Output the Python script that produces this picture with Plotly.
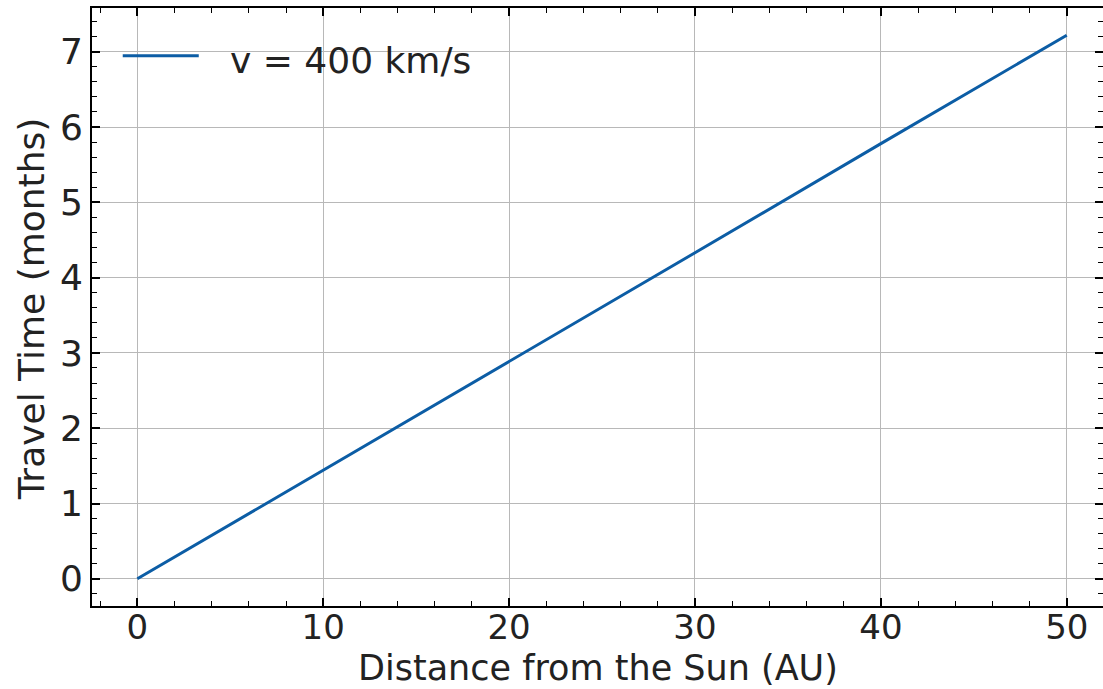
import plotly.graph_objects as go

# Solar-wind travel time at constant speed
distance_au = [0, 10, 20, 30, 40, 50]
travel_months = [0.0, 1.44, 2.89, 4.33, 5.78, 7.22]
series_name = "v = 400 km/s"
x_label = "Distance from the Sun (AU)"
y_label = "Travel Time (months)"

x_ticks = [0, 10, 20, 30, 40, 50]
y_ticks = [0, 1, 2, 3, 4, 5, 6, 7]

LINE_COLOR = "#0C5DA5"
FONT = "DejaVu Sans"
FONT_SIZE = 36
X_TICK_SIZE = 34
X_TITLE_SIZE = 35
TEXT_COLOR = "#222222"

fig = go.Figure()
fig.add_trace(go.Scatter(
    x=distance_au, y=travel_months, mode="lines", name=series_name,
    line=dict(color=LINE_COLOR, width=3), showlegend=False,
))

axis_common = dict(
    showline=True, linecolor="black", linewidth=1.8,
    mirror="allticks", ticks="inside", ticklen=8, tickwidth=1.5, tickcolor="black",
    showgrid=True, gridcolor="#b8b8b8", gridwidth=1.2,
    zeroline=False, automargin=False,
)

fig.update_xaxes(
    range=[-2.44, 51.95], tickvals=x_ticks, ticklabelstandoff=-10,
    tickfont=dict(family=FONT, size=X_TICK_SIZE, color=TEXT_COLOR),
    minor=dict(ticks="inside", ticklen=5, tickwidth=1.3, dtick=2, tick0=0,
               tickcolor="black", showgrid=False),
    **axis_common,
)
fig.update_yaxes(
    range=[-0.361, 7.581], tickvals=y_ticks,
    tickfont=dict(family=FONT, size=FONT_SIZE, color=TEXT_COLOR),
    minor=dict(ticks="inside", ticklen=5, tickwidth=1.3, dtick=0.2, tick0=0,
               tickcolor="black", showgrid=False),
    **axis_common,
)

# Axis titles
fig.add_annotation(xref="paper", yref="paper", x=0.5, y=-0.1385,
                   xanchor="center", yanchor="bottom", showarrow=False,
                   text=x_label, borderpad=0,
                   font=dict(family=FONT, size=X_TITLE_SIZE, color=TEXT_COLOR))
fig.add_annotation(xref="paper", yref="paper", x=-0.0598, y=0.497,
                   xanchor="center", yanchor="middle", showarrow=False,
                   textangle=-90, text=y_label,
                   font=dict(family=FONT, size=FONT_SIZE, color=TEXT_COLOR))

# Legend entry drawn as a sample line plus label
fig.add_shape(type="line", xref="paper", yref="paper",
              x0=0.0304, x1=0.1056, y0=0.920, y1=0.920,
              line=dict(color=LINE_COLOR, width=3))
fig.add_annotation(xref="paper", yref="paper", x=0.1343, y=0.913,
                   xanchor="left", yanchor="middle", showarrow=False,
                   text=series_name,
                   font=dict(family=FONT, size=FONT_SIZE, color=TEXT_COLOR))

fig.update_layout(
    width=1103, height=689,
    margin=dict(l=92, r=0, t=8, b=83),
    plot_bgcolor="white", paper_bgcolor="white",
)

fig.write_html("out.html")
